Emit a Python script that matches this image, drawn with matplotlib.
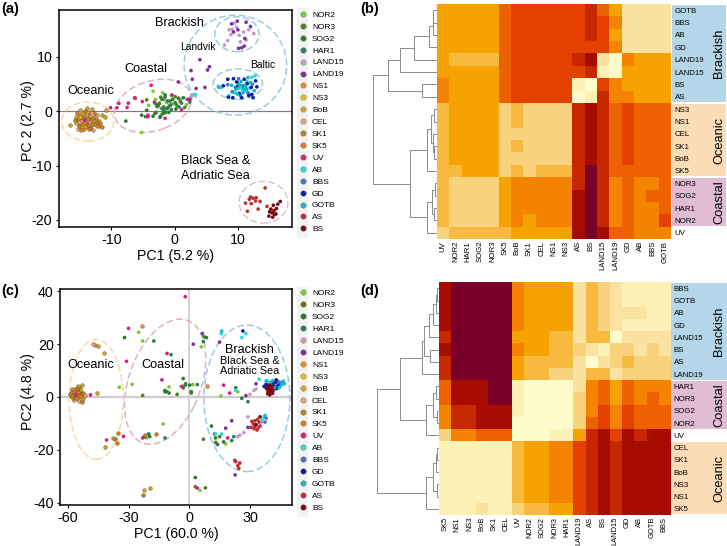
import matplotlib
matplotlib.use('Agg')
import matplotlib.pyplot as plt
from matplotlib.colors import ListedColormap
from matplotlib.lines import Line2D
from matplotlib.patches import Ellipse, Rectangle

plt.rcParams['font.family'] = ['Liberation Sans', 'DejaVu Sans']
plt.rcParams['axes.unicode_minus'] = False

W, H = 727, 546

# === PCA scores, panel (a) ===
a_NOR2 = [(-5.2,-3.9),(-4.1,1.1),(-3.4,3.7),(-2.6,0.8),(-1.9,3.4),(-1.2,1.6),(-0.5,2.9),(0.4,0.9),(1.0,2.2),(1.9,1.2),(-3.0,2.2),(-2.1,-0.6),(-0.2,1.4),(-1.6,2.1)]
a_NOR3 = [(-6.2,2.4),(-4.4,2.1),(-3.1,-0.4),(-2.2,2.6),(-1.4,-0.2),(-0.7,1.9),(0.1,2.7),(0.9,1.8),(1.6,0.7),(-2.8,0.9),(-1.0,0.7),(0.3,1.2),(-2.4,1.5)]
a_SOG2 = [(-7.7,-1.8),(-5.2,-0.7),(-4.4,0.2),(-3.4,-0.9),(-2.5,1.2),(-1.8,-0.4),(-1.2,0.5),(-0.6,1.2),(0.2,0.4),(-2.0,2.2),(-1.5,3.0),(-0.9,-0.2),(0.6,2.4),(-2.3,-1.1),(-1.7,0.8),(-0.3,2.2)]
a_HAR1 = [(-4.6,-1.0),(-3.0,1.4),(-2.2,-0.9),(-1.7,0.2),(-1.1,1.9),(-0.5,0.3),(0.1,1.6),(0.7,0.8),(1.4,2.5),(2.4,1.7),(-2.9,-0.2),(-1.5,2.6),(-2.0,0.5),(-0.8,1.0),(1.1,1.5)]
a_LAND15 = [(7.9,12.2),(8.4,13.0),(8.6,15.0),(8.9,14.1),(9.4,16.2),(9.8,15.5),(10.4,12.8),(10.9,14.6),(11.3,13.1),(11.7,15.0),(12.5,14.3),(10.2,14.0),(9.1,15.1),(2.6,2.6),(2.7,3.0)]
a_LAND19 = [(2.6,7.5),(2.8,5.9),(3.4,4.2),(4.0,9.5),(4.8,4.4),(5.2,7.6),(5.5,8.2),(9.0,16.1),(9.3,14.6),(9.9,16.6),(10.0,15.0),(10.1,11.6),(10.6,11.7),(11.0,12.0),(11.3,16.4),(11.1,13.4),(12.0,15.6),(0.6,5.4),(2.4,2.2)]
a_NS1 = [(-15.2,-1.5),(-14.6,-2.4),(-14.1,-0.9),(-13.7,-2.9),(-13.2,-1.6),(-12.8,-2.2),(-15.0,-0.6),(-14.3,-3.2),(-13.5,-0.3),(-12.4,-1.4)]
a_NS3 = [(-15.6,-2.2),(-14.9,-1.1),(-14.2,-1.8),(-13.6,-1.0),(-13.0,-2.6),(-12.3,-0.6),(-11.9,-1.7),(-14.8,-2.9)]
a_BoB = [(-16.5,-2.6),(-15.5,-1.0),(-15.0,0.3),(-14.4,-0.4),(-13.9,0.6),(-13.3,-0.8),(-12.6,-2.3),(-12.0,-2.7),(-11.5,-0.7),(-11.0,-1.0),(-10.8,0.2),(-13.0,0.4)]
a_CEL = [(-15.3,-3.2),(-14.7,-1.7),(-14.1,-2.7),(-13.4,-2.0),(-12.9,-3.4),(-12.5,-1.0),(-15.1,-1.9),(-13.8,-0.2)]
a_SK1 = [(-15.8,-1.6),(-15.1,-2.7),(-14.5,-1.3),(-13.9,-2.3),(-13.3,-3.0),(-12.9,-1.2),(-12.2,-1.9),(-14.2,0.1),(-13.6,-1.5)]
a_SK5 = [(-15.4,-0.3),(-14.8,-3.4),(-14.2,-2.2),(-13.5,-3.3),(-12.7,-0.4),(-12.3,-2.7),(-11.5,-2.9),(-11.8,-2.2),(-13.1,-2.3)]
a_UV = [(-10.1,0.66),(-8.8,1.47),(-9.1,0.66),(-7.5,0.7),(-7.3,1.5),(-3.7,4.8),(-4.2,-0.7),(-4.2,-1.0),(-6.3,2.5),(-5.1,1.8),(-1.5,-1.3),(-0.4,3.0),(1.1,0.3),(2.0,2.2),(-3.2,1.7),(-14.2,-1.6)]
a_AB = [(6.9,4.6),(7.4,4.4),(8.6,2.9),(9.5,3.4),(10.0,5.2),(10.7,3.9),(11.4,5.5),(11.9,4.3),(12.2,6.3),(12.7,6.5),(3.1,3.0),(3.3,3.1),(10.4,4.4),(11.0,3.7),(11.2,4.9)]
a_BBS = [(8.4,4.9),(9.1,3.6),(10.1,6.0),(10.8,4.7),(11.6,3.4),(12.3,5.0),(10.4,2.9),(9.6,4.4),(11.3,4.2)]
a_GD = [(7.7,4.7),(8.4,5.9),(8.5,2.6),(9.2,2.5),(9.3,6.0),(10.0,4.6),(10.6,2.5),(11.0,5.9),(11.7,2.9),(12.2,3.1),(12.4,2.5),(13.0,4.5),(12.8,5.6),(9.8,5.4),(11.5,5.1),(10.2,3.3),(12.1,4.4)]
a_GOTB = [(7.0,4.4),(9.7,4.0),(10.3,4.9),(10.8,3.4),(11.2,4.6),(11.6,6.2),(12.0,5.3),(12.6,3.8),(9.0,4.8),(10.5,5.5),(9.9,3.2),(10.9,4.2),(11.4,3.9),(10.1,4.3)]
a_AS = [(11.2,-16.9),(11.5,-18.4),(11.8,-16.2),(12.0,-15.8),(12.4,-16.0),(12.8,-16.5),(13.2,-18.0),(13.5,-16.6),(14.3,-14.1),(14.6,-17.5),(12.1,-17.0),(12.9,-15.9)]
a_BS = [(14.9,-19.3),(15.2,-18.0),(15.4,-18.7),(15.6,-17.3),(15.7,-18.3),(16.0,-18.9),(16.1,-17.9),(16.3,-17.1),(16.7,-16.6),(15.0,-18.5),(15.8,-19.0),(15.5,-19.5)]

# === PCA scores, panel (c) ===
c_NOR2 = [(-34.6,3.7),(-28.2,4.8),(-25.0,24.5),(-23.1,21.2),(-12.9,-10.2),(13.5,-17.5),(18.0,-17.8),(15.6,0.4),(5.3,-35.4),(6.0,19.0),(-4.0,4.0),(-10.0,3.8),(1.8,4.7),(24.0,2.0),(-21.0,-15.5)]
c_NOR3 = [(-23.0,0.6),(-12.0,2.5),(-6.0,1.0),(1.0,1.5),(3.0,-34.0),(8.0,-34.4),(7.0,-16.0),(13.0,-17.2),(15.0,-15.0),(-11.0,2.0),(7.4,22.8),(-1.8,5.0)]
c_SOG2 = [(-32.0,22.5),(-17.5,21.2),(-20.0,-14.0),(-22.0,-15.0),(-3.0,7.0),(-3.0,3.5),(1.0,2.0),(3.0,-30.5),(8.5,22.5),(11.0,-11.0),(13.0,-15.5),(26.0,-0.5),(-12.0,2.0),(0.2,4.5),(17.0,-17.0)]
c_HAR1 = [(-9.0,16.0),(-19.5,-15.0),(-12.0,-15.5),(-10.0,1.5),(-2.0,4.5),(4.0,4.7),(14.0,-18.0),(21.0,-16.5),(23.0,3.5),(29.0,-1.8),(22.0,-15.0),(7.0,21.0)]
c_LAND15 = [(29.0,-7.5),(27.0,-13.5),(25.0,-14.5),(33.0,3.0),(32.0,2.5),(36.0,-9.5),(30.0,1.0),(24.0,-15.0)]
c_LAND19 = [(6.5,24.0),(2.0,20.0),(15.0,20.8),(21.0,-9.0),(33.0,5.0),(29.0,-11.5),(18.0,-11.8),(22.7,-29.5),(28.0,0.5)]
c_NS1 = [(-41.8,-18.8),(-57.0,1.2),(-55.0,0.5),(-53.5,2.0),(-56.0,3.0),(-54.0,3.5),(-58.5,0.2),(-52.5,1.5)]
c_NS3 = [(-58.0,0.5),(-56.0,2.0),(-54.5,1.0),(-57.0,2.5),(-55.5,-0.5),(-53.8,2.8)]
c_BoB = [(-46.6,19.7),(-45.3,19.3),(-42.3,16.5),(-45.8,1.4),(-37.9,-15.6),(-22.4,-35.2),(-19.6,-34.6),(-23.5,27.0),(-53.0,4.5),(-58.0,2.0),(9.0,4.2),(-52.5,-0.5),(-55.0,4.0)]
c_CEL = [(-47.5,20.0),(-57.0,-1.0),(-54.5,-1.5),(-52.8,-1.2),(-58.5,1.5),(-51.5,0.8)]
c_SK1 = [(-22.7,-37.3),(-36.9,-15.8),(-59.0,1.0),(-57.5,-0.2),(-55.0,2.5),(-53.5,1.0),(-56.5,1.2),(-55.5,3.5)]
c_SK5 = [(-35.9,-17.3),(-35.1,-13.5),(-56.0,-0.3),(-54.0,0.3),(-58.0,3.0),(-53.0,-2.0),(-22.0,-14.5),(-16.5,-14.0),(-57.0,1.8),(-54.8,1.8)]
c_UV = [(-48.8,0.8),(-40.9,-16.3),(-32.5,-14.9),(-31.0,13.5),(-30.0,26.0),(-13.5,6.5),(-11.0,16.5),(-2.0,38.0),(-23.0,-15.5),(17.0,4.5),(20.0,1.5),(19.0,-15.5),(4.0,-34.5),(-3.5,4.0),(23.0,-24.5),(-56.0,1.0),(12.5,-14.0)]
c_AB = [(15.8,24.0),(28.0,24.0),(26.0,22.5),(34.5,6.8),(23.0,2.5),(37.0,-7.5),(36.0,-8.5),(40.0,4.5),(43.0,6.0),(46.0,5.0),(13.0,-14.0),(16.0,-14.0),(38.5,6.2),(44.8,4.2)]
c_BBS = [(37.5,-9.5),(39.0,3.5),(41.5,5.0),(43.5,4.0),(45.0,5.5),(38.0,-8.0),(40.5,4.2),(42.5,3.4),(44.0,5.8)]
c_GD = [(26.5,25.0),(40.5,3.5),(42.5,5.5),(44.0,4.5),(43.0,6.5),(37.0,4.0),(41.0,5.5),(38.0,4.8),(39.2,4.2),(41.8,4.2),(43.2,3.2)]
c_GOTB = [(16.0,25.0),(40.0,5.5),(42.0,3.5),(44.5,3.5),(46.5,6.0),(38.0,6.0),(47.0,5.0),(37.5,-7.0),(41.2,6.2),(45.5,4.5)]
c_AS = [(22.5,-24.0),(24.0,-26.0),(25.0,-25.0),(24.5,-27.0),(30.5,-11.5),(31.5,-10.0),(32.0,-12.0),(33.0,-10.5),(33.5,-12.5),(34.5,-9.5),(35.0,-11.0),(32.5,-9.0),(31.0,-9.2),(33.8,-8.5),(32.2,-11.2),(34.0,-11.8)]
c_BS = [(35.0,-7.5),(38.0,3.5),(39.0,2.0),(39.5,4.5),(40.0,3.0),(40.5,1.5),(41.0,3.5),(41.5,2.5),(38.5,3.0),(33.0,-10.5),(39.2,3.2),(40.2,2.2),(39.8,0.8),(38.8,1.2),(41.2,1.4),(40.6,4.0)]

pts_a = [a_NOR2, a_NOR3, a_SOG2, a_HAR1, a_LAND15, a_LAND19, a_NS1, a_NS3, a_BoB, a_CEL, a_SK1, a_SK5, a_UV, a_AB, a_BBS, a_GD, a_GOTB, a_AS, a_BS]
pts_c = [c_NOR2, c_NOR3, c_SOG2, c_HAR1, c_LAND15, c_LAND19, c_NS1, c_NS3, c_BoB, c_CEL, c_SK1, c_SK5, c_UV, c_AB, c_BBS, c_GD, c_GOTB, c_AS, c_BS]

groups = ['NOR2', 'NOR3', 'SOG2', 'HAR1', 'LAND15', 'LAND19', 'NS1', 'NS3', 'BoB', 'CEL', 'SK1', 'SK5',
          'UV', 'AB', 'BBS', 'GD', 'GOTB', 'AS', 'BS']
group_colors = ['#7CCB2E', '#4F7F1E', '#2E7A32', '#2E7D5A', '#C898C8', '#7B2FA0', '#E88A1E', '#E8B81E', '#D9A030',
                '#E8A080', '#B8801E', '#E07A20', '#D81E7F', '#30D8D8', '#4A70C8', '#0A1FA8', '#18B8C8', '#C03030', '#7A0A14']

# === Heatmaps, colour classes 0 (palest) to 11 (darkest) ===
heat_colors = ['#FFFBCB', '#FDF1B6', '#FAE3A0', '#F8D27C', '#F8B93F', '#F6A200', '#F58300', '#EE6100',
               '#E44000', '#C82800', '#A80C00', '#7A0029']

b_rows = ['GOTB', 'BBS', 'AB', 'GD', 'LAND19', 'LAND15', 'BS', 'AS', 'NS3', 'NS1', 'CEL', 'SK1', 'BoB', 'SK5',
          'NOR3', 'SOG2', 'HAR1', 'NOR2', 'UV']
b_cols = ['UV', 'NOR2', 'HAR1', 'SOG2', 'NOR3', 'SK5', 'BoB', 'SK1', 'CEL', 'NS1', 'NS3', 'AS', 'BS', 'LAND15',
          'LAND19', 'GD', 'AB', 'BBS', 'GOTB']
b_vals = [
    [5, 5, 5, 5, 5, 7, 8, 8, 8, 8, 8, 8, 9, 7, 5, 2, 2, 2, 2],
    [5, 5, 5, 5, 5, 7, 8, 8, 8, 8, 8, 8, 9, 8, 6, 2, 2, 2, 2],
    [5, 5, 5, 5, 5, 7, 8, 8, 8, 8, 8, 8, 9, 8, 5, 2, 2, 2, 2],
    [5, 5, 5, 5, 5, 7, 8, 8, 8, 8, 8, 8, 8, 8, 6, 2, 2, 2, 2],
    [5, 4, 4, 4, 4, 7, 8, 8, 8, 8, 8, 9, 10, 2, 0, 6, 5, 5, 5],
    [5, 5, 5, 5, 5, 7, 8, 8, 8, 8, 8, 8, 9, 1, 0, 5, 5, 5, 5],
    [6, 5, 5, 5, 5, 7, 8, 8, 8, 8, 8, 1, 0, 8, 6, 5, 5, 5, 5],
    [6, 5, 5, 5, 5, 7, 8, 8, 8, 8, 8, 0, 1, 9, 6, 6, 5, 5, 5],
    [4, 5, 5, 5, 5, 3, 4, 3, 3, 3, 3, 9, 10, 9, 7, 8, 7, 7, 7],
    [4, 5, 5, 5, 5, 3, 4, 3, 3, 3, 3, 9, 10, 9, 7, 8, 7, 7, 7],
    [4, 5, 5, 5, 5, 3, 3, 3, 3, 3, 3, 9, 10, 9, 7, 8, 7, 7, 7],
    [4, 5, 5, 5, 5, 3, 4, 3, 3, 3, 3, 9, 10, 9, 7, 8, 7, 7, 7],
    [4, 5, 5, 5, 5, 3, 3, 3, 3, 3, 3, 9, 10, 9, 7, 8, 7, 7, 7],
    [4, 4, 5, 5, 5, 3, 4, 3, 4, 4, 4, 9, 11, 9, 7, 7, 7, 7, 7],
    [4, 3, 3, 3, 3, 5, 6, 6, 6, 6, 6, 9, 11, 9, 6, 7, 6, 6, 7],
    [4, 3, 3, 3, 3, 5, 6, 6, 6, 6, 6, 10, 11, 9, 6, 7, 6, 7, 7],
    [4, 3, 3, 3, 3, 5, 6, 6, 6, 6, 6, 10, 11, 9, 6, 7, 6, 6, 7],
    [4, 3, 3, 3, 3, 5, 6, 5, 6, 6, 6, 10, 11, 9, 6, 7, 6, 6, 8],
    [3, 4, 4, 4, 4, 4, 5, 5, 5, 5, 5, 10, 11, 10, 7, 7, 6, 6, 6],
]

d_rows = ['BBS', 'GOTB', 'AB', 'GD', 'LAND15', 'BS', 'AS', 'LAND19', 'HAR1', 'NOR3', 'SOG2', 'NOR2', 'UV',
          'CEL', 'SK1', 'BoB', 'NS3', 'NS1', 'SK5']
d_cols = ['SK5', 'NS1', 'NS3', 'BoB', 'SK1', 'CEL', 'UV', 'NOR2', 'SOG2', 'NOR3', 'HAR1', 'LAND19', 'AS', 'BS',
          'LAND15', 'GD', 'AB', 'GOTB', 'BBS']
d_vals = [
    [10, 11, 11, 11, 11, 11, 6, 5, 5, 5, 5, 2, 4, 3, 2, 1, 1, 1, 1],
    [10, 11, 11, 11, 11, 11, 6, 5, 5, 5, 5, 2, 4, 3, 2, 1, 1, 1, 1],
    [10, 11, 11, 11, 11, 11, 6, 5, 5, 5, 5, 2, 4, 3, 2, 2, 2, 1, 1],
    [10, 11, 11, 11, 11, 11, 6, 5, 5, 5, 5, 2, 4, 3, 2, 1, 1, 1, 1],
    [9, 11, 11, 11, 11, 11, 5, 5, 5, 4, 4, 2, 4, 4, 0, 2, 2, 2, 2],
    [10, 11, 11, 11, 11, 11, 6, 5, 5, 4, 4, 3, 2, 1, 3, 3, 2, 3, 2],
    [9, 11, 11, 11, 11, 11, 5, 4, 4, 4, 4, 2, 0, 2, 3, 4, 3, 3, 3],
    [9, 11, 11, 11, 11, 11, 5, 4, 4, 3, 3, 2, 4, 4, 2, 3, 3, 3, 3],
    [7, 10, 10, 10, 11, 11, 1, 0, 0, 0, 0, 2, 6, 7, 5, 7, 6, 6, 6],
    [7, 10, 10, 10, 11, 11, 1, 0, 0, 0, 0, 3, 6, 7, 5, 7, 6, 7, 6],
    [6, 9, 9, 10, 10, 10, 1, 0, 0, 0, 0, 3, 6, 8, 6, 8, 7, 7, 7],
    [6, 9, 9, 10, 10, 10, 0, 0, 0, 0, 0, 3, 7, 8, 6, 8, 7, 7, 7],
    [3, 6, 6, 7, 7, 7, 0, 0, 0, 1, 1, 5, 9, 10, 8, 10, 9, 10, 10],
    [1, 1, 1, 1, 1, 1, 4, 5, 5, 6, 6, 8, 9, 10, 9, 10, 10, 10, 10],
    [1, 1, 1, 1, 1, 1, 4, 5, 5, 6, 6, 8, 9, 10, 9, 10, 10, 10, 10],
    [1, 1, 1, 1, 1, 1, 4, 5, 5, 6, 6, 8, 9, 10, 9, 10, 10, 10, 10],
    [1, 1, 1, 1, 1, 1, 4, 5, 5, 6, 6, 8, 9, 10, 9, 10, 10, 10, 10],
    [1, 1, 1, 1, 1, 1, 4, 5, 5, 6, 6, 8, 9, 10, 9, 10, 10, 10, 10],
    [1, 1, 1, 2, 1, 1, 3, 4, 4, 5, 5, 8, 9, 10, 9, 10, 10, 10, 10],
]

# dendrograms as (height, upper child, lower child), leaves are row numbers
b_tree = (1.0,
          (0.764, (0.576, (0.356, (0.12, (0.07, (0.06, 0, 1), 2), 3), 4), 5), (0.23, 6, 7)),
          (0.43, (0.16, (0.09, (0.05, 8, 9), (0.06, 10, (0.04, 11, 12))), 13),
           (0.157, (0.08, (0.03, 14, 15), (0.05, 16, 17)), 18)))
d_tree = (1.0,
          (0.63, (0.27, (0.25, (0.16, (0.1, (0.05, (0.03, 0, 1), 2), 3), 4), (0.14, 5, 6)), 7),
           (0.216, (0.09, (0.05, 8, 9), (0.04, 10, 11)), 12)),
          (0.216, (0.09, (0.05, (0.03, 13, 14), 15), (0.03, 16, 17)), 18))

# side bars: name, first row, last row + 1, colour
b_bands = [('Brackish', 0, 8, '#B5D5E8'), ('Oceanic', 8, 14, '#FDDDB8'), ('Coastal', 14, 18, '#E0BDD5')]
d_bands = [('Brackish', 0, 8, '#B5D5E8'), ('Coastal', 8, 12, '#E0BDD5'), ('Oceanic', 13, 19, '#FDDDB8')]


def px_axes(left, top, right, bottom):
    return fig.add_axes([left / W, 1 - bottom / H, (right - left) / W, (bottom - top) / H])


def px_text(x, y, s, **kw):
    fig.text(x / W, 1 - y / H, s, **kw)


def draw_scatter(ax, pts):
    for p, c, g in zip(pts, group_colors, groups):
        edge = '#5A4A20' if g in ('NS1', 'NS3', 'BoB', 'CEL', 'SK1', 'SK5') else 'none'
        ax.scatter([q[0] for q in p], [q[1] for q in p], s=7, color=c, edgecolors=edge, linewidths=0.3, zorder=3)


def style_pca(ax):
    for s in ax.spines.values():
        s.set_linewidth(1.1)
    ax.tick_params(labelsize=10.3, length=2.5, width=0.8, pad=2)


def draw_legend(top):
    fig.add_artist(Rectangle((297 / W, 1 - (top + 230) / H), 11 / W, 230 / H, transform=fig.transFigure,
                             color='#F2F2F2', lw=0))
    handles = [Line2D([], [], ls='none', marker='o', ms=4, mfc=c, mec='#777777', mew=0.25) for c in group_colors]
    fig.legend(handles, groups, loc='upper left', bbox_to_anchor=(296.5 / W, 1 - (top + 0.5) / H), frameon=False,
               fontsize=6.0, labelspacing=0.49, handletextpad=0.55, handlelength=1.0, borderpad=0.3, borderaxespad=0)


def draw_tree(ax, node):
    if not isinstance(node, tuple):
        return 0.0, node + 0.5
    h, a, b = node
    ha, ya = draw_tree(ax, a)
    hb, yb = draw_tree(ax, b)
    ax.plot([ha, h, h, hb], [ya, ya, yb, yb], color='#8A8A8A', lw=0.7, solid_joinstyle='miter')
    return h, (ya + yb) / 2


def draw_heat(box, root_x, vals, rows, cols, tree, bands, col_size):
    left, top, right, bottom = box
    n = len(rows)
    side = px_axes(right + 1.2, top, 726.5, bottom)
    side.set_xlim(0, 1)
    side.set_ylim(n, 0)
    side.axis('off')
    for name, r0, r1, c in bands:
        side.add_patch(Rectangle((0, r0 + 0.06), 1, r1 - r0 - 0.12, color=c, lw=0))
        side.text(0.865, (r0 + r1) / 2, name, rotation=90, ha='center', va='center', fontsize=9.3)

    ax = px_axes(left, top, right, bottom)
    ax.imshow(vals, cmap=ListedColormap(heat_colors), vmin=-0.5, vmax=11.5, aspect='auto', interpolation='nearest',
              extent=(0, len(cols), n, 0))
    ax.set_xticks([i + 0.5 for i in range(len(cols))], cols, rotation=90, fontsize=col_size)
    ax.set_yticks([i + 0.5 for i in range(n)], rows, fontsize=5.7)
    ax.yaxis.tick_right()
    ax.tick_params(axis='y', length=0, pad=2.7)
    ax.tick_params(axis='x', length=0, pad=1.3)
    for s in ax.spines.values():
        s.set_visible(False)

    den = px_axes(root_x, top, left, bottom)
    den.set_xlim(1.0, 0)
    den.set_ylim(n, 0)
    den.axis('off')
    draw_tree(den, tree)


fig = plt.figure(figsize=(W / 100, H / 100), dpi=100)

# === panel (a) ===
ax_a = px_axes(58.7, 10, 291.7, 227)
ax_a.set_xlim(-18.3, 18.5)
ax_a.set_ylim(-21.3, 18.65)
ax_a.axhline(0, color='#808080', lw=0.9, zorder=1)
for xy, w, h, ang, col in [((-13.7, -1.9), 8.2, 7.2, 0, '#F9D9A8'), ((-3.4, 1.0), 12.8, 9.0, 25, '#DDB0CC'),
                           ((9.6, 8.5), 16.2, 18.4, 0, '#9CCBE0'), ((9.85, 14.2), 7.0, 6.4, 0, '#9CCBE0'),
                           ((10.0, 5.0), 7.8, 5.6, 0, '#9CCBE0'), ((14.05, -16.75), 7.7, 7.7, 0, '#DCC5C8')]:
    ax_a.add_patch(Ellipse(xy, w, h, angle=ang, fill=False, ec=col, lw=1.1, ls=(0, (4.5, 2)), zorder=2))
draw_scatter(ax_a, pts_a)
ax_a.set_xticks([-10, 0, 10])
ax_a.set_yticks([-20, -10, 0, 10])
style_pca(ax_a)
ax_a.set_xlabel('PC1 (5.2 %)', fontsize=10.2, labelpad=1)
ax_a.set_ylabel('PC 2 (2.7 %)', fontsize=10.2)
ax_a.yaxis.set_label_coords(-0.10, 0.49)
ax_a.text(-16.9, 3.7, 'Oceanic', fontsize=9.2, va='center')
ax_a.text(-8.0, 7.7, 'Coastal', fontsize=9.2, va='center')
ax_a.text(-3.1, 16.3, 'Brackish', fontsize=9.2, va='center')
ax_a.text(0.8, 11.8, 'Landvik', fontsize=7.4, va='center')
ax_a.text(11.9, 8.6, 'Baltic', fontsize=7.4, va='center')
ax_a.text(1.0, -9.1, 'Black Sea &', fontsize=9.2, va='center')
ax_a.text(1.0, -12.0, 'Adriatic Sea', fontsize=9.2, va='center')
draw_legend(8)

# === panel (c) ===
ax_c = px_axes(60, 289, 292, 505)
ax_c.set_xlim(-63.9, 50.8)
ax_c.set_ylim(-40.9, 40.9)
ax_c.axhline(0, color='#CCCCCC', lw=1.6, zorder=1)
ax_c.axvline(0, color='#CCCCCC', lw=1.2, zorder=1)
for xy, w, h, ang, col in [((-46, -0.9), 26.8, 45.4, 0, '#F9D9A8'), ((-11.9, 5.8), 52, 34, 57, '#DDB0CC'),
                           ((28.5, -0.5), 42.5, 55.5, 0, '#9CCBE0')]:
    ax_c.add_patch(Ellipse(xy, w, h, angle=ang, fill=False, ec=col, lw=1.1, ls=(0, (4.5, 2)), zorder=2))
draw_scatter(ax_c, pts_c)
ax_c.set_xticks([-60, -30, 0, 30])
ax_c.set_yticks([-40, -20, 0, 20, 40])
style_pca(ax_c)
ax_c.set_xlabel('PC1 (60.0 %)', fontsize=10.2, labelpad=1)
ax_c.set_ylabel('PC2 (4.8 %)', fontsize=10.2)
ax_c.yaxis.set_label_coords(-0.108, 0.525)
ax_c.text(-60.5, 12, 'Oceanic', fontsize=9.2, va='center')
ax_c.text(-23.5, 12, 'Coastal', fontsize=9.2, va='center')
ax_c.text(30, 17.7, 'Brackish', fontsize=9.2, ha='center', va='center')
ax_c.text(30, 13.5, 'Black Sea &', fontsize=7.8, ha='center', va='center')
ax_c.text(30, 9.8, 'Adriatic Sea', fontsize=7.8, ha='center', va='center')
draw_legend(286.5)

# === panels (b) and (d) ===
draw_heat((437, 4, 671, 239), 373.3, b_vals, b_rows, b_cols, b_tree, b_bands, 5.6)
draw_heat((439, 282.3, 670, 515), 377.3, d_vals, d_rows, d_cols, d_tree, d_bands, 5.4)

for x, y, s in [(1, 9, '(a)'), (360, 9, '(b)'), (1, 291, '(c)'), (360, 291, '(d)')]:
    px_text(x, y, s, fontsize=10.5, fontweight='bold', va='center')

fig.savefig('out.png', dpi=100)
